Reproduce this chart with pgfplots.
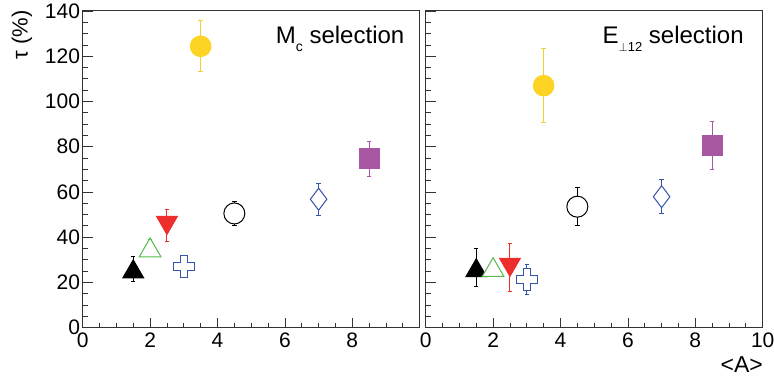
\documentclass[border=0pt]{standalone}
\usepackage{fontspec}
\setmainfont{Liberation Sans}
\usepackage{pgfplots}
\pgfplotsset{compat=1.18}

\definecolor{cyel}{HTML}{FDD424}
\definecolor{cyelbar}{HTML}{F0CF3A}
\definecolor{cred}{HTML}{EE2D2D}
\definecolor{cgreen}{HTML}{55BB4A}
\definecolor{cblue}{HTML}{3553AA}
\definecolor{cmag}{HTML}{A857A2}
\definecolor{cframe}{HTML}{333333}

\pgfdeclareplotmark{utri}{%
  \pgfpathmoveto{\pgfpoint{0pt}{0.75\pgfplotmarksize}}%
  \pgfpathlineto{\pgfpoint{-0.866\pgfplotmarksize}{-0.75\pgfplotmarksize}}%
  \pgfpathlineto{\pgfpoint{0.866\pgfplotmarksize}{-0.75\pgfplotmarksize}}%
  \pgfpathclose
  \pgfusepathqfillstroke}
\pgfdeclareplotmark{dtri}{%
  \pgfpathmoveto{\pgfpoint{0pt}{-0.75\pgfplotmarksize}}%
  \pgfpathlineto{\pgfpoint{-0.866\pgfplotmarksize}{0.75\pgfplotmarksize}}%
  \pgfpathlineto{\pgfpoint{0.866\pgfplotmarksize}{0.75\pgfplotmarksize}}%
  \pgfpathclose
  \pgfusepathqfillstroke}
\pgfdeclareplotmark{ocross}{%
  \pgfpathmoveto{\pgfpoint{-0.35\pgfplotmarksize}{\pgfplotmarksize}}%
  \pgfpathlineto{\pgfpoint{0.35\pgfplotmarksize}{\pgfplotmarksize}}%
  \pgfpathlineto{\pgfpoint{0.35\pgfplotmarksize}{0.35\pgfplotmarksize}}%
  \pgfpathlineto{\pgfpoint{\pgfplotmarksize}{0.35\pgfplotmarksize}}%
  \pgfpathlineto{\pgfpoint{\pgfplotmarksize}{-0.35\pgfplotmarksize}}%
  \pgfpathlineto{\pgfpoint{0.35\pgfplotmarksize}{-0.35\pgfplotmarksize}}%
  \pgfpathlineto{\pgfpoint{0.35\pgfplotmarksize}{-\pgfplotmarksize}}%
  \pgfpathlineto{\pgfpoint{-0.35\pgfplotmarksize}{-\pgfplotmarksize}}%
  \pgfpathlineto{\pgfpoint{-0.35\pgfplotmarksize}{-0.35\pgfplotmarksize}}%
  \pgfpathlineto{\pgfpoint{-\pgfplotmarksize}{-0.35\pgfplotmarksize}}%
  \pgfpathlineto{\pgfpoint{-\pgfplotmarksize}{0.35\pgfplotmarksize}}%
  \pgfpathlineto{\pgfpoint{-0.35\pgfplotmarksize}{0.35\pgfplotmarksize}}%
  \pgfpathclose
  \pgfusepathqfillstroke}

\pgfplotsset{
  rootax/.style={
    scale only axis, width=337pt, height=316.7pt,
    xmin=0, xmax=10, ymin=0, ymax=140,
    axis line style={draw=cframe, line width=1pt},
    tick align=inside, xtick pos=bottom, ytick pos=left,
    xtick={0,2,4,6,8,10}, ytick={0,20,40,60,80,100,120,140},
    minor x tick num=3, minor y tick num=3,
    major tick length=10pt, minor tick length=5pt,
    every tick/.style={cframe, line width=0.8pt},
    tick label style={font=\fontsize{21}{24}\selectfont},
    /pgf/number format/assume math mode=true,
    xticklabel style={inner sep=0pt, anchor=north, yshift=-5pt},
    yticklabel style={inner sep=0pt, anchor=east, xshift=-2.5pt},
  },
  perr/.style={only marks, solid, line width=1pt,
    error bars/y dir=both, error bars/y explicit,
    error bars/error bar style={line width=1pt, solid},
    error bars/error mark options={rotate=90, mark size=2.2pt, line width=1pt, solid}},
  pblack/.style={perr, color=black, mark=utri, mark size=12pt, mark options={fill=black, solid}},
  pgreen/.style={perr, color=cgreen, mark=utri, mark size=12.5pt, mark options={fill=white, solid}},
  pred/.style={perr, color=cred, mark=dtri, mark size=12pt, mark options={fill=cred, solid}},
  pcross/.style={perr, color=cblue, mark=ocross, mark size=10.8pt, mark options={fill=white, solid}},
  pyel/.style={only marks, solid, line width=1pt, color=cyel, mark=*, mark size=10.3pt, mark options={fill=cyel, solid},
     error bars/y dir=both, error bars/y explicit,
     error bars/error bar style={color=cyelbar, line width=1pt, solid},
     error bars/error mark options={rotate=90, mark size=2.2pt, line width=1pt, color=cyelbar, solid}},
  pcirc/.style={perr, color=black, mark=*, mark size=10.5pt, mark options={fill=white, solid}},
  pdiam/.style={perr, color=cblue, mark=diamond*, mark size=11pt, mark options={fill=white, solid}},
  psq/.style={perr, color=cmag, mark=square*, mark size=10pt, mark options={fill=cmag, solid}},
}

\begin{document}
\begin{tikzpicture}
\useasboundingbox (0,0) rectangle (774pt,377pt);

\begin{axis}[rootax, at={(82.7pt,49.3pt)}, anchor=south west,
  xticklabels={0,2,4,6,8,}, yticklabels={0,20,40,60,80,100,120,140}]
\addplot[pblack] coordinates {(1.5,26) +- (0,5.4)};
\addplot[pgreen] coordinates {(2,35.5) +- (0,3.7)};
\addplot[pred] coordinates {(2.5,45.2) +- (0,6.9)};
\addplot[pcross] coordinates {(3,27) +- (0,4.7)};
\addplot[pyel] coordinates {(3.5,124.4) +- (0,11.3)};
\addplot[pcirc] coordinates {(4.5,50.5) +- (0,5.4)};
\addplot[pdiam] coordinates {(7,56.8) +- (0,7)};
\addplot[psq] coordinates {(8.5,74.6) +- (0,7.6)};
\end{axis}

\begin{axis}[rootax, at={(425.7pt,49.3pt)}, anchor=south west,
  xticklabels={0,2,4,6,8,10}, yticklabels={}]
\addplot[pblack] coordinates {(1.5,26.5) +- (0,8.5)};
\addplot[pgreen] coordinates {(2,26.8) +- (0,2)};
\addplot[pred] coordinates {(2.5,26.7) +- (0,10.5)};
\addplot[pcross] coordinates {(3,21.3) +- (0,6.7)};
\addplot[pyel] coordinates {(3.5,107) +- (0,16.5)};
\addplot[pcirc] coordinates {(4.5,53.5) +- (0,8.5)};
\addplot[pdiam] coordinates {(7,57.9) +- (0,7.5)};
\addplot[psq] coordinates {(8.5,80.5) +- (0,10.7)};
\end{axis}

\node[anchor=base west, inner sep=0pt, font=\fontsize{24}{28}\selectfont]
  at (275.7pt,333pt) {M\raisebox{-7.5pt}{\fontsize{14}{14}\selectfont c} selection};
\node[anchor=base west, inner sep=0pt, font=\fontsize{24}{28}\selectfont]
  at (602.3pt,333pt) {E\raisebox{-7.5pt}{\fontsize{13}{13}\selectfont$\perp$12} selection};
\node[rotate=90, anchor=east, inner sep=0pt, font=\fontsize{22}{26}\selectfont]
  at (22pt,367pt) {τ (\%)};
\node[anchor=base east, inner sep=0pt, font=\fontsize{23}{26}\selectfont]
  at (763pt,4pt) {<A>};
\end{tikzpicture}
\end{document}
